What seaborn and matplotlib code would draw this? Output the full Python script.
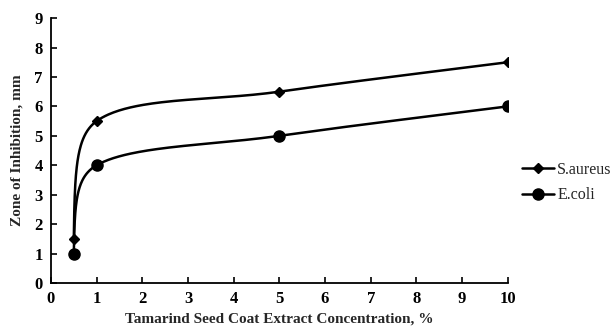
import numpy as np
import matplotlib
matplotlib.use("Agg")
import matplotlib.pyplot as plt
from matplotlib.lines import Line2D
import seaborn as sns

# ── Data ─────────────────────────────────────────────────────────────────────
concentration = [0.5, 1, 5, 10]
s_aureus = [1.5, 5.5, 6.5, 7.5]
e_coli = [1.0, 4.0, 5.0, 6.0]
series_names = ["S.aureus", "E.coli"]
x_ticks = list(range(0, 11))
y_ticks = list(range(0, 10))


def smooth_curve(xs, ys, n=80):
    """Excel-like smoothed line: cubic Bezier with Catmull-Rom tangents,
    tangent handles clipped so the curve does not run back in x."""
    p = np.column_stack([xs, ys]).astype(float)
    m = len(p)
    tang = []
    for i in range(m):
        a = p[max(i - 1, 0)]
        b = p[min(i + 1, m - 1)]
        tang.append((b - a) / 6.0)
    if m > 1:
        d = p[1] - p[0]
        tang[0] = np.array([0.04 * d[0], 0.6 * d[1]])
        tang[-1] = (p[-1] - p[-2]) / 6.0
    out = []
    t = np.linspace(0, 1, n)[:, None]
    for i in range(m - 1):
        p0, p3 = p[i], p[i + 1]
        w = p3[0] - p0[0]
        d0, d1 = tang[i].copy(), tang[i + 1].copy()
        if d0[0] > 0.9 * w:
            d0 *= 0.9 * w / d0[0]
        if d1[0] > 0.9 * w:
            d1 *= 0.9 * w / d1[0]
        c1, c2 = p0 + d0, p3 - d1
        seg = ((1 - t) ** 3) * p0 + 3 * ((1 - t) ** 2) * t * c1 \
            + 3 * (1 - t) * t ** 2 * c2 + t ** 3 * p3
        out.append(seg if i == 0 else seg[1:])
    pts = np.vstack(out)
    return pts[:, 0], pts[:, 1]


sns.set_theme(style="ticks")
plt.rcParams["font.family"] = ["Liberation Serif", "DejaVu Serif"]

fig = plt.figure(figsize=(6.14, 3.29), dpi=100)
ax = fig.add_axes([0.083, 0.140, 0.744, 0.805])

markers = ["D", "o"]
msizes = [5, 8]
handles = []
for name, vals, mk, ms in zip(series_names, [s_aureus, e_coli], markers, msizes):
    cx, cy = smooth_curve(concentration, vals)
    sns.lineplot(x=cx, y=cy, sort=False, ax=ax, color="black", lw=1.8,
                 estimator=None)
    ax.plot(concentration, vals, linestyle="none", marker=mk, ms=ms,
            color="black")
    handles.append(Line2D([], [], color="black", lw=1.8, marker=mk, ms=ms,
                          label=name))

ax.set_xlim(0, 10)
ax.set_ylim(0, 9)
ax.set_xticks(x_ticks)
ax.set_yticks(y_ticks)
ax.tick_params(direction="in", length=4, width=1.2, colors="black",
               labelsize=12, pad=6)
for lab in ax.get_xticklabels() + ax.get_yticklabels():
    lab.set_fontweight("bold")
for s in ["top", "right"]:
    ax.spines[s].set_visible(False)
for s in ["left", "bottom"]:
    ax.spines[s].set_linewidth(1.3)
    ax.spines[s].set_color("black")

ax.set_xlabel("Tamarind Seed Coat Extract Concentration, %", fontsize=11,
              fontweight="bold", labelpad=4)
ax.set_ylabel("Zone of Inhibition, mm", fontsize=11, fontweight="bold",
              labelpad=8)

fig.legend(handles=handles, loc="center left", bbox_to_anchor=(0.84, 0.445),
           frameon=False, fontsize=11.5, handlelength=2.0, handletextpad=0.2,
           labelspacing=0.6, borderaxespad=0)

fig.savefig("out.png", dpi=100, facecolor="white")
